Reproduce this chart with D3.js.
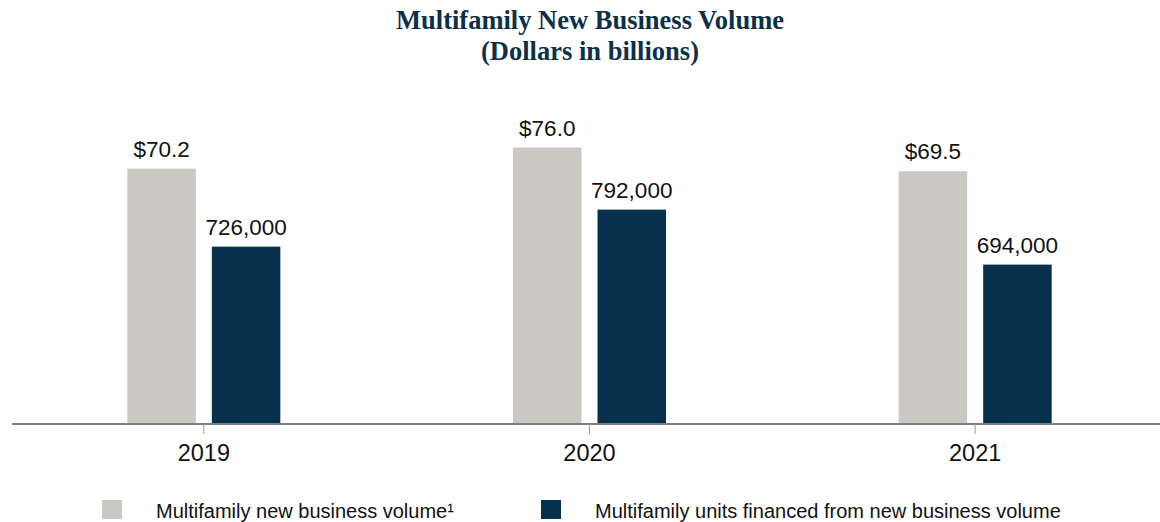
<!DOCTYPE html>
<html>
<head>
<meta charset="utf-8">
<script src="https://cdn.jsdelivr.net/npm/d3@7"></script>
<style>
  body { margin: 0; background: #fff; }
  svg { display: block; }
</style>
</head>
<body>
<div class="chart"></div>
<script>
// chart data
var years = ["2019", "2020", "2021"];
var volume = [70.2, 76.0, 69.5];          // dollars in billions
var units = [726000, 792000, 694000];     // units financed
var volumeLabels = ["$70.2", "$76.0", "$69.5"];
var unitLabels = ["726,000", "792,000", "694,000"];
var legendLabels = ["Multifamily new business volume\u00b9", "Multifamily units financed from new business volume"];

var svgWidth = 1160;
var svgHeight = 522;
var baseY = 424;

var svg = d3.select(".chart")
  .append("svg")
  .attr("width", svgWidth)
  .attr("height", svgHeight);

// title
var title = svg.append("text")
  .attr("text-anchor", "middle")
  .attr("font-family", "'Liberation Serif', 'Times New Roman', serif")
  .attr("font-weight", "bold")
  .attr("font-size", 26.5)
  .attr("fill", "#0d3049");
title.append("tspan").attr("x", 590).attr("y", 29).text("Multifamily New Business Volume");
title.append("tspan").attr("x", 590).attr("y", 60).text("(Dollars in billions)");

// scales
var xScale = d3.scaleBand()
  .domain(years)
  .range([11, 1168])
  .padding(0);

var yVolume = d3.scaleLinear()
  .domain([0, 80])
  .range([baseY, baseY - 291]);

// units bars sit on their own axis that doesn't start at zero
var yUnits = d3.scaleLinear()
  .domain([410000, 900000])
  .range([baseY, baseY - 275]);

var barW = 68.5;
var gap = 8;
var center = d => xScale(d) + xScale.bandwidth() / 2;

var font = "'Liberation Sans', Arial, sans-serif";

// gray bars
svg.append("g").selectAll("rect")
  .data(years)
  .enter()
  .append("rect")
  .attr("x", (d, i) => center(d) - gap - barW)
  .attr("y", (d, i) => yVolume(volume[i]))
  .attr("width", barW)
  .attr("height", (d, i) => baseY - yVolume(volume[i]))
  .attr("fill", "#cbc8c4");

// navy bars
svg.append("g").selectAll("rect")
  .data(years)
  .enter()
  .append("rect")
  .attr("x", (d, i) => center(d) + gap)
  .attr("y", (d, i) => yUnits(units[i]))
  .attr("width", barW)
  .attr("height", (d, i) => baseY - yUnits(units[i]))
  .attr("fill", "#06304c");

// value labels
svg.append("g").selectAll("text")
  .data(years)
  .enter()
  .append("text")
  .attr("x", (d, i) => center(d) - gap - barW / 2)
  .attr("y", (d, i) => yVolume(volume[i]) - 12)
  .attr("text-anchor", "middle")
  .attr("font-family", font)
  .attr("font-size", 22.5)
  .attr("fill", "#111")
  .text((d, i) => volumeLabels[i]);

svg.append("g").selectAll("text")
  .data(years)
  .enter()
  .append("text")
  .attr("x", (d, i) => center(d) + gap + barW / 2)
  .attr("y", (d, i) => yUnits(units[i]) - 12)
  .attr("text-anchor", "middle")
  .attr("font-family", font)
  .attr("font-size", 22.5)
  .attr("fill", "#111")
  .text((d, i) => unitLabels[i]);

// x axis
var xAxis = d3.axisBottom(xScale).tickSize(10).tickPadding(10).tickSizeOuter(0);
var axisG = svg.append("g")
  .attr("transform", `translate(0, ${baseY})`)
  .call(xAxis);
axisG.select(".domain").attr("stroke", "#7f7f7f").attr("stroke-width", 2).attr("d", "M12,0H1160");
axisG.selectAll(".tick line").attr("stroke", "#9a9a9a").attr("stroke-width", 1);
axisG.selectAll(".tick text")
  .attr("font-family", font)
  .attr("font-size", 23.5)
  .attr("fill", "#111");

// legend
var legendX = [102, 541];
var legendColors = ["#cbc8c4", "#06304c"];
var legend = svg.append("g").selectAll("g")
  .data(legendLabels)
  .enter()
  .append("g")
  .attr("transform", (d, i) => `translate(${legendX[i]}, 500)`);

legend.append("rect")
  .attr("width", 20)
  .attr("height", 19)
  .attr("fill", (d, i) => legendColors[i]);

legend.append("text")
  .attr("x", 54)
  .attr("y", 18)
  .attr("font-family", font)
  .attr("font-size", 20)
  .attr("fill", "#111")
  .text(d => d);
</script>
</body>
</html>
